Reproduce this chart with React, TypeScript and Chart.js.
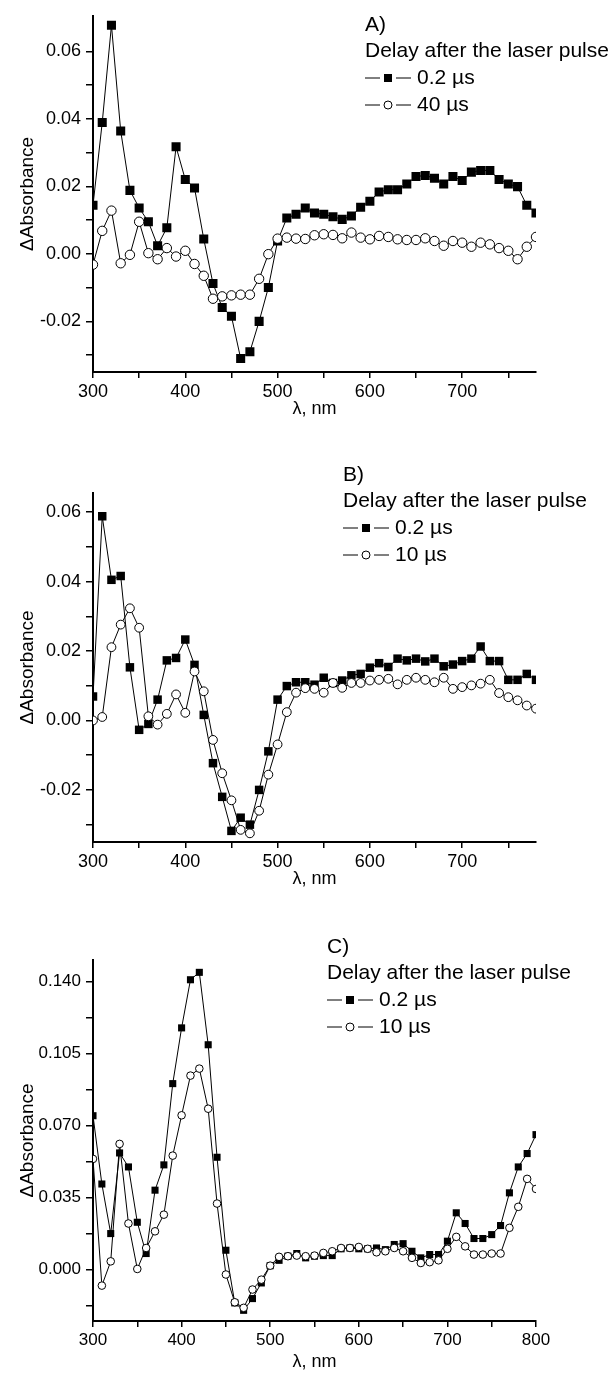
import React, { useEffect, useRef } from "react";
import { Chart, registerables } from "chart.js";

Chart.register(...registerables);

const FONT = "'Liberation Sans', Arial, Helvetica, sans-serif";
const LEGEND_TITLE = "Delay after the laser pulse";
const X_TITLE = "λ, nm";
const Y_TITLE = "ΔAbsorbance";

// ---------- wavelengths ----------
const wavelengthAB = [
  300, 310, 320, 330, 340, 350, 360, 370, 380, 390, 400, 410, 420, 430, 440, 450, 460,
  470, 480, 490, 500, 510, 520, 530, 540, 550, 560, 570, 580, 590, 600, 610, 620, 630,
  640, 650, 660, 670, 680, 690, 700, 710, 720, 730, 740, 750, 760, 770, 780,
];
const wavelengthC = [
  300, 310, 320, 330, 340, 350, 360, 370, 380, 390, 400, 410, 420, 430, 440, 450, 460,
  470, 480, 490, 500, 510, 520, 530, 540, 550, 560, 570, 580, 590, 600, 610, 620, 630,
  640, 650, 660, 670, 680, 690, 700, 710, 720, 730, 740, 750, 760, 770, 780, 790, 800,
];

// ---------- panel A ----------
const panelA_02us = [
  0.0144, 0.0389, 0.0677, 0.0364, 0.0188, 0.0136, 0.0095, 0.0024, 0.0077, 0.0317, 0.022,
  0.0195, 0.0044, -0.0088, -0.0159, -0.0185, -0.031, -0.029, -0.02, -0.01, 0.0038, 0.0106,
  0.0117, 0.0136, 0.0121, 0.0117, 0.011, 0.0102, 0.0112, 0.0138, 0.0156, 0.0183, 0.019,
  0.019, 0.0207, 0.0229, 0.0232, 0.0224, 0.0207, 0.0229, 0.0217, 0.0242, 0.0247, 0.0247,
  0.022, 0.0207, 0.0199, 0.0144, 0.0121,
];
const panelA_40us = [
  -0.0032, 0.0068, 0.0128, -0.0028, -0.0003, 0.0095, 0.0002, -0.0016, 0.0017, -0.0008,
  0.0009, -0.003, -0.0065, -0.0133, -0.0126, -0.0123, -0.0121, -0.0121, -0.0074, -0.0001,
  0.0045, 0.0048, 0.0045, 0.0044, 0.0055, 0.0058, 0.0056, 0.0046, 0.0063, 0.0048, 0.0043,
  0.0053, 0.005, 0.0043, 0.0041, 0.0041, 0.0046, 0.0038, 0.0024, 0.0038, 0.0033, 0.0021,
  0.0033, 0.0028, 0.0017, 0.0009, -0.0016, 0.0021, 0.005,
];

// ---------- panel B ----------
const panelB_02us = [
  0.0069, 0.0588, 0.0405, 0.0416, 0.0153, -0.0027, -0.001, 0.006, 0.0173, 0.018, 0.0233,
  0.016, 0.0016, -0.0123, -0.022, -0.0318, -0.028, -0.03, -0.02, -0.0089, 0.006, 0.0099,
  0.011, 0.011, 0.0103, 0.0123, 0.0108, 0.0115, 0.013, 0.0134, 0.0152, 0.0165, 0.0154,
  0.0178, 0.0173, 0.0178, 0.017, 0.0178, 0.0156, 0.0161, 0.0171, 0.0178, 0.0213, 0.0171,
  0.0171, 0.0117, 0.0117, 0.0134, 0.0117,
];
const panelB_10us = [
  0.0, 0.001, 0.0211, 0.0276, 0.0323, 0.0267, 0.0012, -0.0012, 0.0019, 0.0075, 0.0022,
  0.0141, 0.0084, -0.0056, -0.0152, -0.023, -0.0315, -0.0325, -0.026, -0.0156, -0.0069,
  0.0024, 0.008, 0.0093, 0.0091, 0.008, 0.0108, 0.0094, 0.0108, 0.0108, 0.0115, 0.0117,
  0.012, 0.0104, 0.0117, 0.0123, 0.0117, 0.011, 0.0123, 0.0091, 0.0096, 0.0101, 0.0106,
  0.0117, 0.0079, 0.0067, 0.0058, 0.0043, 0.0034,
];

// ---------- panel C ----------
const panelC_02us = [
  0.0748, 0.0416, 0.0175, 0.0567, 0.0499, 0.023, 0.0078, 0.0386, 0.0509, 0.0904, 0.1175,
  0.1409, 0.1445, 0.1093, 0.0546, 0.0094, -0.0162, -0.0198, -0.0141, -0.0065, 0.0019,
  0.0045, 0.0065, 0.0078, 0.0057, 0.0065, 0.0068, 0.0068, 0.0101, 0.0105, 0.0101, 0.0101,
  0.0105, 0.0097, 0.0122, 0.0126, 0.0089, 0.0057, 0.0073, 0.0073, 0.0138, 0.0276, 0.0224,
  0.0151, 0.0151, 0.017, 0.0214, 0.0373, 0.0499, 0.0564, 0.0656,
];
const panelC_10us = [
  0.0538, -0.0078, 0.004, 0.0611, 0.0224, 0.0003, 0.0105, 0.0186, 0.0267, 0.0554, 0.075,
  0.0943, 0.0977, 0.0782, 0.0321, -0.0024, -0.0159, -0.0186, -0.0097, -0.0049, 0.0019,
  0.0062, 0.0065, 0.0068, 0.0065, 0.0068, 0.0081, 0.0089, 0.0105, 0.0105, 0.011, 0.0101,
  0.0084, 0.0089, 0.0105, 0.0089, 0.0057, 0.0032, 0.0036, 0.0045, 0.0101, 0.0159, 0.0113,
  0.0073, 0.0073, 0.0078, 0.0078, 0.0203, 0.0305, 0.0441, 0.0392,
];

// ---------- ticks ----------
const xTicksAB = [300, 350, 400, 450, 500, 550, 600, 650, 700, 750];
const xLabelsAB = [300, 400, 500, 600, 700];
const xTicksC = [300, 350, 400, 450, 500, 550, 600, 650, 700, 750, 800];
const xLabelsC = [300, 400, 500, 600, 700, 800];
const yTicksAB = [-0.03, -0.02, -0.01, 0.0, 0.01, 0.02, 0.03, 0.04, 0.05, 0.06];
const yLabelsAB = [-0.02, 0.0, 0.02, 0.04, 0.06];
const yTicksC = [-0.0175, 0.0, 0.0175, 0.035, 0.0525, 0.07, 0.0875, 0.105, 0.1225, 0.14];
const yLabelsC = [0.0, 0.035, 0.07, 0.105, 0.14];

type Panel = {
  top: number;
  height: number;
  plotTop: number;
  plotBottom: number;
  xMin: number;
  xMax: number;
  xTicks: number[];
  xLabels: number[];
  yMin: number;
  yMax: number;
  yTicks: number[];
  yLabels: number[];
  yDigits: number;
  tickFont: number;
  xTitlePad: number;
  wl: number[];
  s1: number[];
  s2: number[];
  name1: string;
  name2: string;
  letter: string;
  legendX: number;
  legendY: number;
  sqR: number;
  ciR: number;
};

const PLOT_LEFT = 93;
const PLOT_RIGHT = 536;
const W = 609;

const panels: Panel[] = [
  {
    top: 0, height: 440, plotTop: 13, plotBottom: 372,
    xMin: 300, xMax: 780, xTicks: xTicksAB, xLabels: xLabelsAB,
    yMin: -0.035, yMax: 0.0705, yTicks: yTicksAB, yLabels: yLabelsAB, yDigits: 2,
    tickFont: 18, xTitlePad: 20,
    wl: wavelengthAB, s1: panelA_02us, s2: panelA_40us,
    name1: "0.2 µs", name2: "40 µs", letter: "A)", legendX: 365, legendY: 25,
    sqR: 6.4, ciR: 4.7,
  },
  {
    top: 440, height: 470, plotTop: 53, plotBottom: 402,
    xMin: 300, xMax: 780, xTicks: xTicksAB, xLabels: xLabelsAB,
    yMin: -0.035, yMax: 0.0655, yTicks: yTicksAB, yLabels: yLabelsAB, yDigits: 2,
    tickFont: 18, xTitlePad: 20,
    wl: wavelengthAB, s1: panelB_02us, s2: panelB_10us,
    name1: "0.2 µs", name2: "10 µs", letter: "B)", legendX: 343, legendY: 35,
    sqR: 6.0, ciR: 4.4,
  },
  {
    top: 910, height: 466, plotTop: 50, plotBottom: 411,
    xMin: 300, xMax: 800, xTicks: xTicksC, xLabels: xLabelsC,
    yMin: -0.025, yMax: 0.1505, yTicks: yTicksC, yLabels: yLabelsC, yDigits: 3,
    tickFont: 17, xTitlePad: 3,
    wl: wavelengthC, s1: panelC_02us, s2: panelC_10us,
    name1: "0.2 µs", name2: "10 µs", letter: "C)", legendX: 327, legendY: 37,
    sqR: 5.0, ciR: 3.8,
  },
];

function legendPlugin(p: Panel) {
  return {
    id: "panelLegend",
    afterDraw(chart: any) {
      const ctx = chart.ctx as CanvasRenderingContext2D;
      ctx.save();
      ctx.fillStyle = "#000";
      ctx.strokeStyle = "#000";
      ctx.font = `21px ${FONT}`;
      ctx.textAlign = "left";
      ctx.textBaseline = "middle";
      const x = p.legendX;
      let y = p.legendY;
      ctx.fillText(p.letter, x, y);
      y += 26;
      ctx.fillText(LEGEND_TITLE, x, y);
      const ds = chart.data.datasets;
      for (let k = 0; k < ds.length; k++) {
        y += 27;
        ctx.lineWidth = 1;
        ctx.beginPath();
        ctx.moveTo(x, y);
        ctx.lineTo(x + 15, y);
        ctx.moveTo(x + 31, y);
        ctx.lineTo(x + 46, y);
        ctx.stroke();
        if (ds[k].pointStyle === "rect") {
          ctx.fillRect(x + 19, y - 4, 8, 8);
        } else {
          ctx.beginPath();
          ctx.arc(x + 23, y, 4, 0, Math.PI * 2);
          ctx.fillStyle = "#fff";
          ctx.fill();
          ctx.stroke();
          ctx.fillStyle = "#000";
        }
        ctx.fillText(ds[k].label, x + 52, y);
      }
      ctx.restore();
    },
  };
}

function PanelChart({ p }: { p: Panel }) {
  const ref = useRef<HTMLCanvasElement | null>(null);
  useEffect(() => {
    if (!ref.current) return;
    const tickFont = { family: FONT, size: p.tickFont };
    const chart = new Chart(ref.current, {
      type: "line",
      data: {
        datasets: [
          {
            label: p.name1,
            data: p.wl.map((x, i) => ({ x, y: p.s1[i] })),
            borderColor: "#000",
            borderWidth: 1,
            pointStyle: "rect",
            pointRadius: p.sqR,
            pointBackgroundColor: "#000",
            pointBorderColor: "#000",
            pointBorderWidth: 0,
            tension: 0,
            fill: false,
            order: 1,
          },
          {
            label: p.name2,
            data: p.wl.map((x, i) => ({ x, y: p.s2[i] })),
            borderColor: "#000",
            borderWidth: 1,
            pointStyle: "circle",
            pointRadius: p.ciR,
            pointBackgroundColor: "#fff",
            pointBorderColor: "#000",
            pointBorderWidth: 1,
            tension: 0,
            fill: false,
            order: 0,
          },
        ],
      },
      options: {
        responsive: false,
        animation: false,
        devicePixelRatio: 1,
        layout: {
          padding: { top: p.plotTop, right: W - PLOT_RIGHT, left: 0, bottom: 0 },
        },
        plugins: {
          legend: { display: false },
          tooltip: { enabled: false },
        },
        scales: {
          x: {
            type: "linear",
            min: p.xMin,
            max: p.xMax,
            afterBuildTicks: (s: any) => {
              s.ticks = p.xTicks.map((v) => ({ value: v }));
            },
            afterFit: (s: any) => {
              s.height = p.height - p.plotBottom;
            },
            ticks: {
              autoSkip: false,
              maxRotation: 0,
              color: "#000",
              font: tickFont,
              padding: 3,
              callback: (v: any) => (p.xLabels.includes(v) ? String(v) : ""),
            },
            grid: {
              display: true,
              drawOnChartArea: false,
              drawTicks: true,
              tickLength: 6,
              color: "#000",
              lineWidth: 1.5,
            },
            border: { display: true, color: "#000", width: 2 },
            title: {
              display: true,
              text: X_TITLE,
              color: "#000",
              font: { family: FONT, size: 18 },
              padding: { top: 0, bottom: p.xTitlePad },
            },
          },
          y: {
            type: "linear",
            min: p.yMin,
            max: p.yMax,
            afterBuildTicks: (s: any) => {
              s.ticks = p.yTicks.map((v) => ({ value: v }));
            },
            afterFit: (s: any) => {
              s.width = PLOT_LEFT;
            },
            ticks: {
              autoSkip: false,
              color: "#000",
              font: tickFont,
              padding: 5,
              callback: (v: any) => (p.yLabels.includes(v) ? Number(v).toFixed(p.yDigits) : ""),
            },
            grid: {
              display: true,
              drawOnChartArea: false,
              drawTicks: true,
              tickLength: 7,
              color: "#000",
              lineWidth: 1.5,
            },
            border: { display: true, color: "#000", width: 2 },
            title: {
              display: true,
              text: Y_TITLE,
              color: "#000",
              font: { family: FONT, size: 19 },
              padding: { top: 16, bottom: 0 },
            },
          },
        },
      } as any,
      plugins: [legendPlugin(p)],
    });
    return () => chart.destroy();
  }, [p]);
  return (
    <canvas
      ref={ref}
      width={W}
      height={p.height}
      style={{ position: "absolute", left: 0, top: p.top, width: W, height: p.height }}
    />
  );
}

export default function App() {
  return (
    <div style={{ position: "absolute", left: 0, top: 0, width: W, height: 1376, background: "#fff" }}>
      {panels.map((p, i) => (
        <PanelChart key={i} p={p} />
      ))}
    </div>
  );
}
